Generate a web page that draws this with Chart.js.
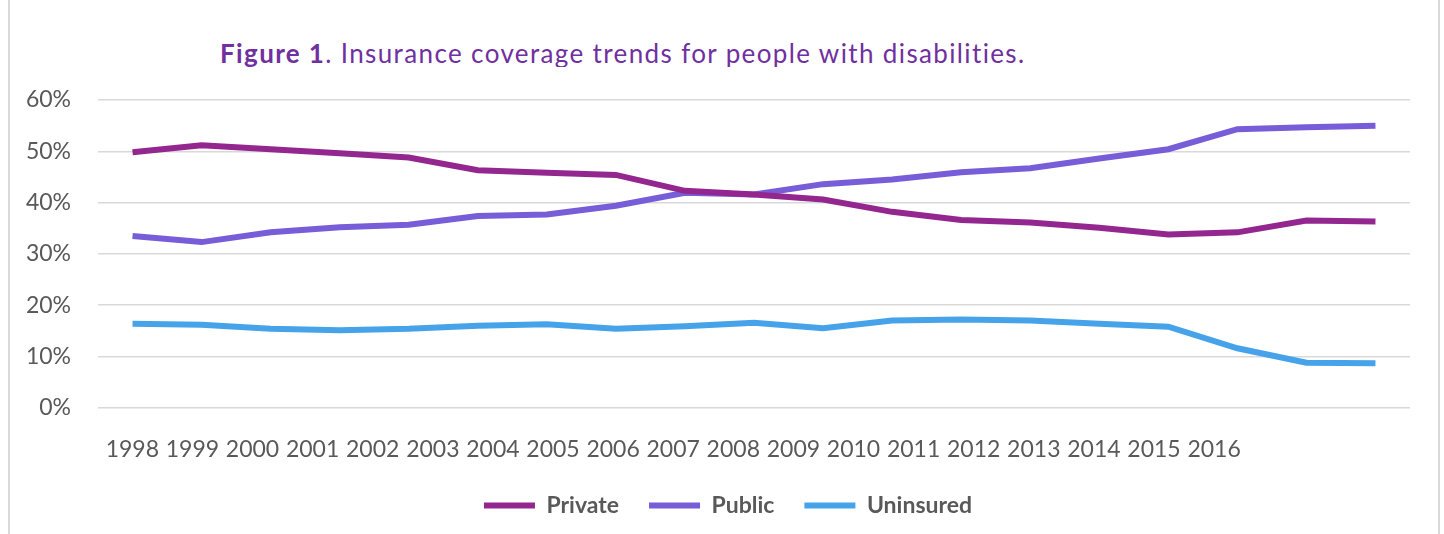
<!DOCTYPE html>
<html lang="en">
<head>
<meta charset="utf-8">
<title>Insurance coverage trends for people with disabilities</title>
<script src="https://cdn.jsdelivr.net/npm/chart.js@4.4.1/dist/chart.umd.min.js"></script>
<style>
  html, body { margin: 0; padding: 0; background: #fff; }
  #wrap { position: relative; width: 1444px; height: 534px; overflow: hidden; }
  #frame {
    position: absolute; left: 8px; top: -10px; width: 1428px; height: 560px;
    border-left: 2px solid #d9d9d9; border-right: 2px solid #d9d9d9;
  }
  #title {
    position: absolute; left: 220px; top: 40px; height: 27px; overflow: hidden;
    font: 26px Lato, "Open Sans", sans-serif; line-height: 26px;
    color: #7030a0; white-space: nowrap;
  }
  #title b { font-weight: 700; }
  #chart { position: absolute; left: 0; top: 0; }
</style>
</head>
<body>
<div id="wrap">
  <div id="frame"></div>
  <div id="title"><span id="titleText"><b>Figure 1</b>. Insurance coverage trends for people with disabilities.</span></div>
  <canvas id="chart" width="1444" height="534"></canvas>
</div>
<script>
// 数据
const years = ['1998', '1999', '2000', '2001', '2002', '2003', '2004', '2005', '2006', '2007',
  '2008', '2009', '2010', '2011', '2012', '2013', '2014', '2015', '2016'];
const privateCov = [49.8, 51.2, 50.4, 49.6, 48.8, 46.3, 45.8, 45.4, 42.3, 41.6,
  40.6, 38.2, 36.6, 36.1, 35.1, 33.8, 34.2, 36.5, 36.3];
const publicCov = [33.5, 32.3, 34.2, 35.2, 35.7, 37.4, 37.7, 39.4, 41.9, 41.6,
  43.6, 44.5, 45.9, 46.7, 48.6, 50.4, 54.3, 54.7, 55.0];
const uninsured = [16.4, 16.2, 15.4, 15.1, 15.4, 16.0, 16.3, 15.4, 15.9, 16.6,
  15.5, 17.0, 17.2, 17.0, 16.4, 15.8, 11.6, 8.8, 8.7];
const yTicks = [0, 10, 20, 30, 40, 50, 60];

const grey = '#595959';

document.addEventListener('DOMContentLoaded', init);

function init() {
  fitTitle();
  drawChart();
}

// 标题宽度对齐原图 (约 806px)
function fitTitle() {
  const span = document.getElementById('titleText');
  const w = span.getBoundingClientRect().width;
  const n = span.textContent.length;
  span.style.letterSpacing = ((806 - w) / n).toFixed(2) + 'px';
}

// 图例整体右移一点 (原图图例中心约在 728px)
const legendShift = {
  id: 'legendShift',
  afterLayout(chart) {
    const lg = chart.legend;
    if (!lg) return;
    lg.left += 23;
    lg.right += 23;
  }
};

function drawChart() {
  const ctx = document.getElementById('chart');

  new Chart(ctx, {
    type: 'line',
    data: {
      labels: years,
      datasets: [
        makeSeries('Private', privateCov, '#93278f'),
        makeSeries('Public', publicCov, '#775dd8'),
        makeSeries('Uninsured', uninsured, '#46a3ea')
      ]
    },
    plugins: [legendShift],
    options: {
      responsive: false,
      animation: false,
      layout: { padding: { top: 100, right: 34, bottom: 7, left: 0 } },
      plugins: {
        title: { display: false },
        tooltip: { enabled: false },
        legend: {
          position: 'bottom',
          labels: {
            boxWidth: 51,
            boxHeight: 6,
            padding: 30,
            color: grey,
            font: { family: 'Lato', size: 23, weight: 'bold' },
            generateLabels: function(chart) {
              const items = Chart.defaults.plugins.legend.labels.generateLabels(chart);
              return items.map(it => Object.assign(it, { lineWidth: 0, fillStyle: it.strokeStyle }));
            }
          }
        }
      },
      scales: {
        // 数据用的类别轴 (不显示)
        x: { type: 'category', display: false, offset: true },
        // 年份标签轴
        x2: {
          type: 'linear',
          position: 'bottom',
          min: -0.571,
          max: 21.26,
          afterBuildTicks: s => { s.ticks = years.map((_, i) => ({ value: i })); },
          afterFit: s => { s.height = 56.2; },
          grid: { display: false, drawTicks: false },
          border: { display: false },
          ticks: {
            autoSkip: false,
            maxRotation: 0,
            padding: 28,
            color: grey,
            font: { family: 'Lato', size: 23 },
            callback: v => years[v]
          }
        },
        y: {
          min: 0,
          max: 60,
          afterBuildTicks: s => { s.ticks = yTicks.map(v => ({ value: v })); },
          afterFit: s => { s.width = 98; },
          grid: { color: '#d9d9d9', lineWidth: 1.5, drawTicks: false },
          border: { display: false },
          ticks: {
            padding: 27,
            color: grey,
            font: { family: 'Lato', size: 23 },
            callback: v => v + '%'
          }
        }
      }
    }
  });
}

function makeSeries(name, values, color) {
  return {
    label: name,
    data: values,
    borderColor: color,
    backgroundColor: color,
    borderWidth: 6,
    pointRadius: 0,
    tension: 0,
    fill: false
  };
}
</script>
</body>
</html>
